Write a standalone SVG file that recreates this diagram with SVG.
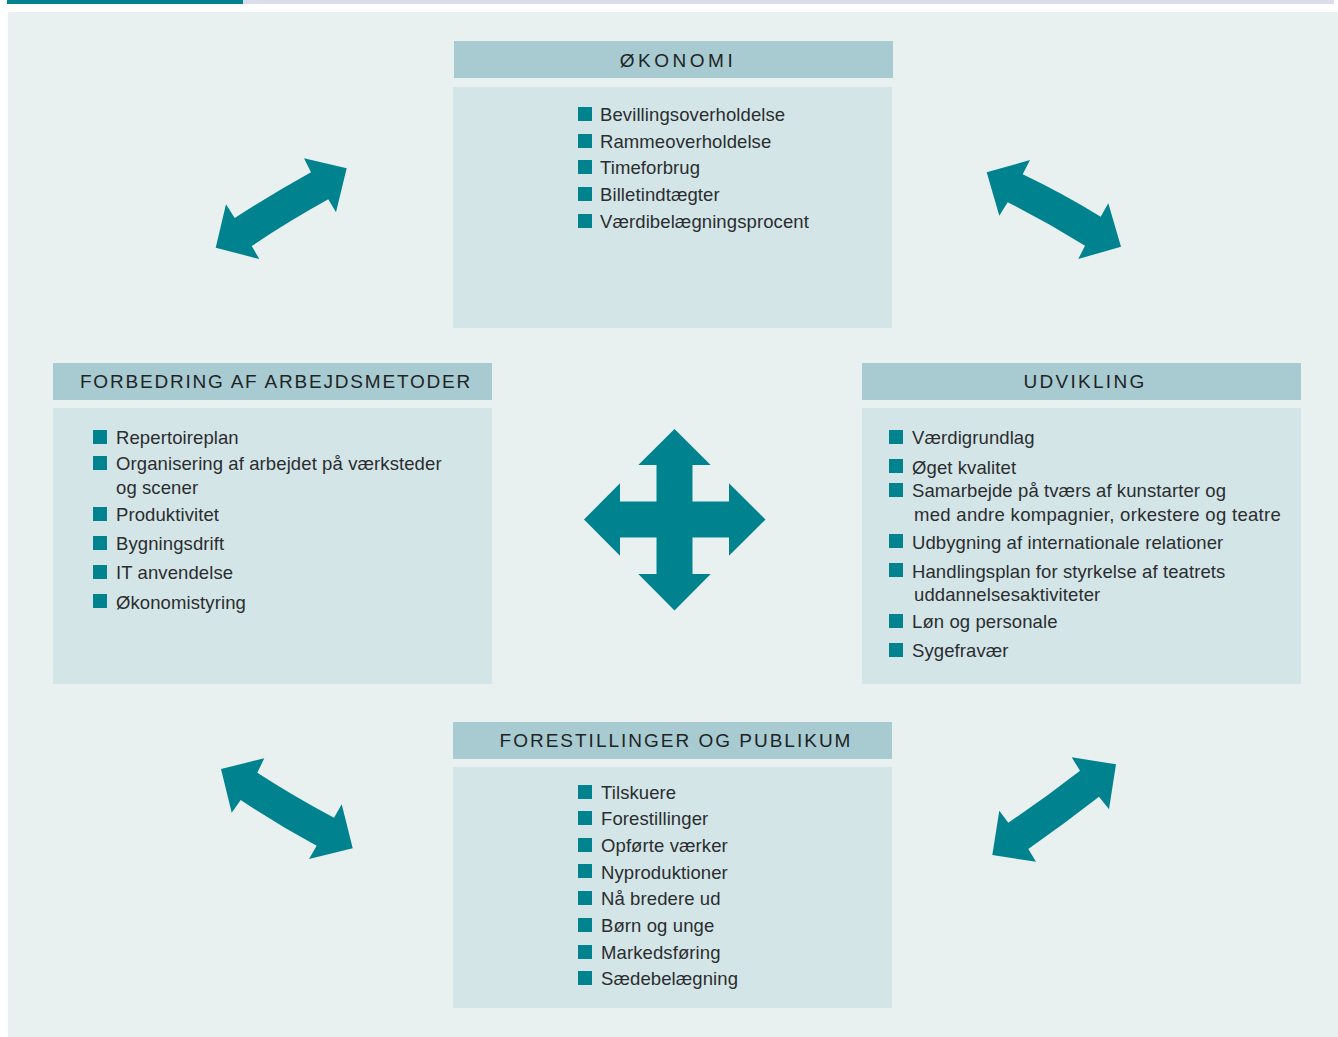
<svg xmlns="http://www.w3.org/2000/svg" width="1338" height="1037" viewBox="0 0 1338 1037">
<style>
.hdr{fill:#a8cbd1}
.box{fill:#d4e5e7}
.ht{font-family:"Liberation Sans",Arial,sans-serif;font-size:19px;letter-spacing:2px;fill:#1e2426;text-anchor:middle}
.it{font-family:"Liberation Sans",Arial,sans-serif;font-size:18.5px;letter-spacing:0.1px;fill:#2a2d2f}
.b{fill:#00838f}
.arr{fill:#00838f}
</style>
<defs>
<rect id="sq" width="14" height="14" class="b"/>
</defs>
<rect x="7" y="0" width="236" height="4" fill="#00838f"/>
<rect x="243" y="0" width="1091" height="4" fill="#dcdcea"/>
<rect x="8" y="12" width="1330" height="1025" fill="#e8f1f0"/>

<g id="okonomi">
<rect class="hdr" x="454" y="41" width="439" height="37"/>
<text class="ht" x="678" y="67" style="letter-spacing:3.5px">ØKONOMI</text>
<rect class="box" x="453" y="87" width="439" height="241"/>
<use href="#sq" x="578" y="107"/><text class="it" x="600" y="121">Bevillingsoverholdelse</text>
<use href="#sq" x="578" y="134"/><text class="it" x="600" y="148">Rammeoverholdelse</text>
<use href="#sq" x="578" y="160"/><text class="it" x="600" y="174">Timeforbrug</text>
<use href="#sq" x="578" y="187"/><text class="it" x="600" y="201">Billetindtægter</text>
<use href="#sq" x="578" y="214"/><text class="it" x="600" y="228">Værdibelægningsprocent</text>
</g>

<g id="forbedring">
<rect class="hdr" x="53" y="363" width="439" height="37"/>
<text class="ht" x="276" y="387.5" style="letter-spacing:1.8px">FORBEDRING AF ARBEJDSMETODER</text>
<rect class="box" x="53" y="408" width="439" height="276"/>
<use href="#sq" x="93" y="430"/><text class="it" x="116" y="444">Repertoireplan</text>
<use href="#sq" x="93" y="456"/><text class="it" x="116" y="470">Organisering af arbejdet på værksteder</text>
<text class="it" x="116" y="493.5">og scener</text>
<use href="#sq" x="93" y="507"/><text class="it" x="116" y="521">Produktivitet</text>
<use href="#sq" x="93" y="536"/><text class="it" x="116" y="550">Bygningsdrift</text>
<use href="#sq" x="93" y="565"/><text class="it" x="116" y="579">IT anvendelse</text>
<use href="#sq" x="93" y="594"/><text class="it" x="116" y="608.5">Økonomistyring</text>
</g>

<g id="udvikling">
<rect class="hdr" x="862" y="363" width="439" height="37"/>
<text class="ht" x="1085" y="388" style="letter-spacing:2.3px">UDVIKLING</text>
<rect class="box" x="862" y="408" width="439" height="276"/>
<use href="#sq" x="889" y="430"/><text class="it" x="912" y="444">Værdigrundlag</text>
<use href="#sq" x="889" y="459"/><text class="it" x="912" y="473.5">Øget kvalitet</text>
<use href="#sq" x="889" y="483"/><text class="it" x="912" y="497">Samarbejde på tværs af kunstarter og</text>
<text class="it" x="914" y="521" style="letter-spacing:0.3px">med andre kompagnier, orkestere og teatre</text>
<use href="#sq" x="889" y="534"/><text class="it" x="912" y="548.5">Udbygning af internationale relationer</text>
<use href="#sq" x="889" y="563"/><text class="it" x="912" y="577.5">Handlingsplan for styrkelse af teatrets</text>
<text class="it" x="914" y="601">uddannelsesaktiviteter</text>
<use href="#sq" x="889" y="614"/><text class="it" x="912" y="628">Løn og personale</text>
<use href="#sq" x="889" y="643"/><text class="it" x="912" y="657">Sygefravær</text>
</g>

<g id="forestillinger">
<rect class="hdr" x="453" y="722" width="439" height="37"/>
<text class="ht" x="676" y="747">FORESTILLINGER OG PUBLIKUM</text>
<rect class="box" x="453" y="767" width="439" height="241"/>
<use href="#sq" x="578" y="785"/><text class="it" x="601" y="799">Tilskuere</text>
<use href="#sq" x="578" y="811"/><text class="it" x="601" y="825">Forestillinger</text>
<use href="#sq" x="578" y="838"/><text class="it" x="601" y="852">Opførte værker</text>
<use href="#sq" x="578" y="864"/><text class="it" x="601" y="878.5">Nyproduktioner</text>
<use href="#sq" x="578" y="891"/><text class="it" x="601" y="905">Nå bredere ud</text>
<use href="#sq" x="578" y="918"/><text class="it" x="601" y="932">Børn og unge</text>
<use href="#sq" x="578" y="945"/><text class="it" x="601" y="959">Markedsføring</text>
<use href="#sq" x="578" y="971"/><text class="it" x="601" y="985">Sædebelægning</text>
</g>

<g id="center-cross">
<polygon class="arr" points="674.5,429 710.7,465 692.5,465 692.5,501.5 729,501.5 729,483.3 765.5,519.5 729,555.7 729,537.5 692.5,537.5 692.5,574 710.7,574 674.5,610.5 638.3,574 656.5,574 656.5,537.5 620,537.5 620,555.7 584,519.5 620,483.3 620,501.5 656.5,501.5 656.5,465 638.3,465"/>
</g>

<g id="connectors">
<path class="arr" d="M346.7,168.3 L336,212.3 L328.3,199.3 Q289,221 251.7,246 L259.3,259 L215.7,247.7 L226,204.3 L234.7,218 Q272,194 311,172.3 L304,158.3 Z"/>
<path class="arr" d="M986.7,172.3 L1030,160 L1022.7,174.3 Q1062,193 1100.7,216.7 L1108.3,203.3 L1121,246.7 L1078.3,259 L1085,245.7 Q1047,222 1007.7,202.3 L999.3,215.7 Z"/>
<path class="arr" d="M221,769 L264.3,758.3 L257.3,772.7 Q295,797 334,817.7 L341.7,804.3 L352.7,848.3 L309,859 L316.7,845.7 Q278,825 240.7,800 L231.7,812.7 Z"/>
<path class="arr" d="M1116,764.3 L1109,809.3 L1099,796.7 Q1064,824 1028.3,849 L1036,861.7 L992.3,855 L999.3,810.7 L1008.3,822.7 Q1045,798 1080,770.7 L1071.7,757.3 Z"/>
</g>
</svg>
